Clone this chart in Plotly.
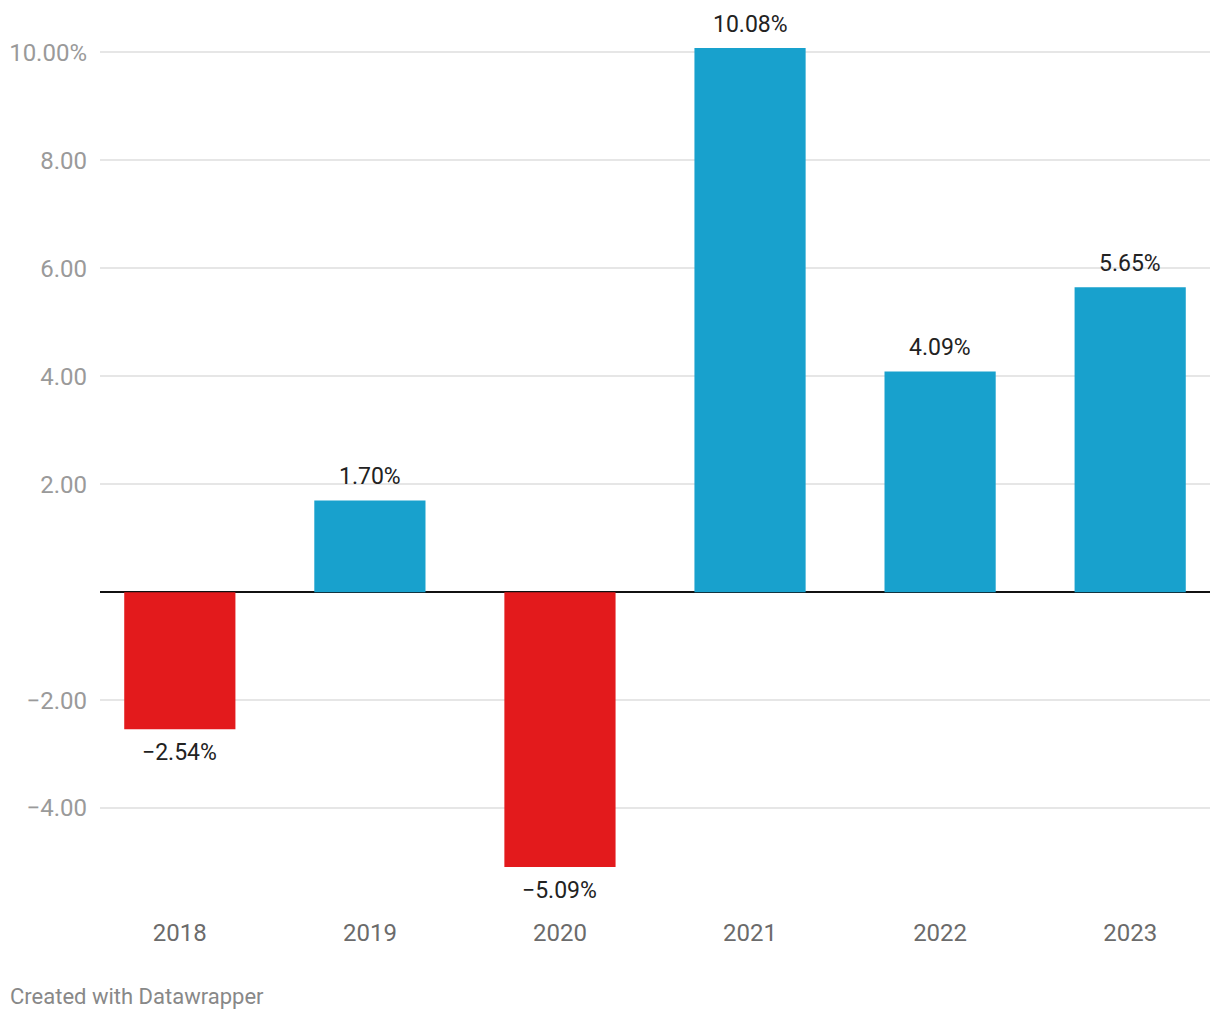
import plotly.graph_objects as go

years = ["2018", "2019", "2020", "2021", "2022", "2023"]
growth = [-2.54, 1.70, -5.09, 10.08, 4.09, 5.65]
value_labels = ["\u22122.54%", "1.70%", "\u22125.09%", "10.08%", "4.09%", "5.65%"]
tick_vals = [-4, -2, 2, 4, 6, 8, 10]
tick_text = ["\u22124.00", "\u22122.00", "2.00", "4.00", "6.00", "8.00", "10.00%"]

BLUE = "#18a1cd"
RED = "#e31a1c"
colors = [BLUE if v >= 0 else RED for v in growth]

fig = go.Figure()
fig.add_trace(go.Bar(
    x=years, y=growth, marker=dict(color=colors, line=dict(width=0)),
    width=0.585, hoverinfo="skip",
))

for i, (v, t) in enumerate(zip(growth, value_labels)):
    fig.add_annotation(
        x=i, y=v, xref="x", yref="y", text=t, showarrow=False,
        yanchor="bottom" if v >= 0 else "top",
        yshift=8 if v >= 0 else -8,
        font=dict(family="Roboto", size=23, color="#222222"),
    )

fig.add_annotation(
    xref="paper", yref="paper", x=-0.0829, y=-0.0904, xanchor="left", yanchor="middle",
    text="Created with Datawrapper", showarrow=False,
    font=dict(family="Roboto", size=22, color="#888888"),
)

fig.update_layout(
    width=1212, height=1012,
    margin=dict(l=92, r=10, t=12, b=104),
    plot_bgcolor="white", paper_bgcolor="white",
    showlegend=False,
    font=dict(family="Roboto"),
    xaxis=dict(
        type="category", range=[-0.42, 5.42], showgrid=False, zeroline=False,
        showline=False, ticks="", tickfont=dict(family="Roboto", size=24, color="#6b6b6b"),
        ticklabelstandoff=0, automargin=False,
    ),
    yaxis=dict(
        range=[-6.0, 10.6], tickvals=tick_vals, ticktext=tick_text,
        showgrid=True, gridcolor="#e6e6e6", gridwidth=1.5,
        zeroline=True, zerolinecolor="#111111", zerolinewidth=1.5,
        showline=False, ticks="", ticklabelstandoff=12, automargin=False,
        tickfont=dict(family="Roboto", size=24, color="#9a9a9a"),
    ),
)

fig.write_html("out.html")
